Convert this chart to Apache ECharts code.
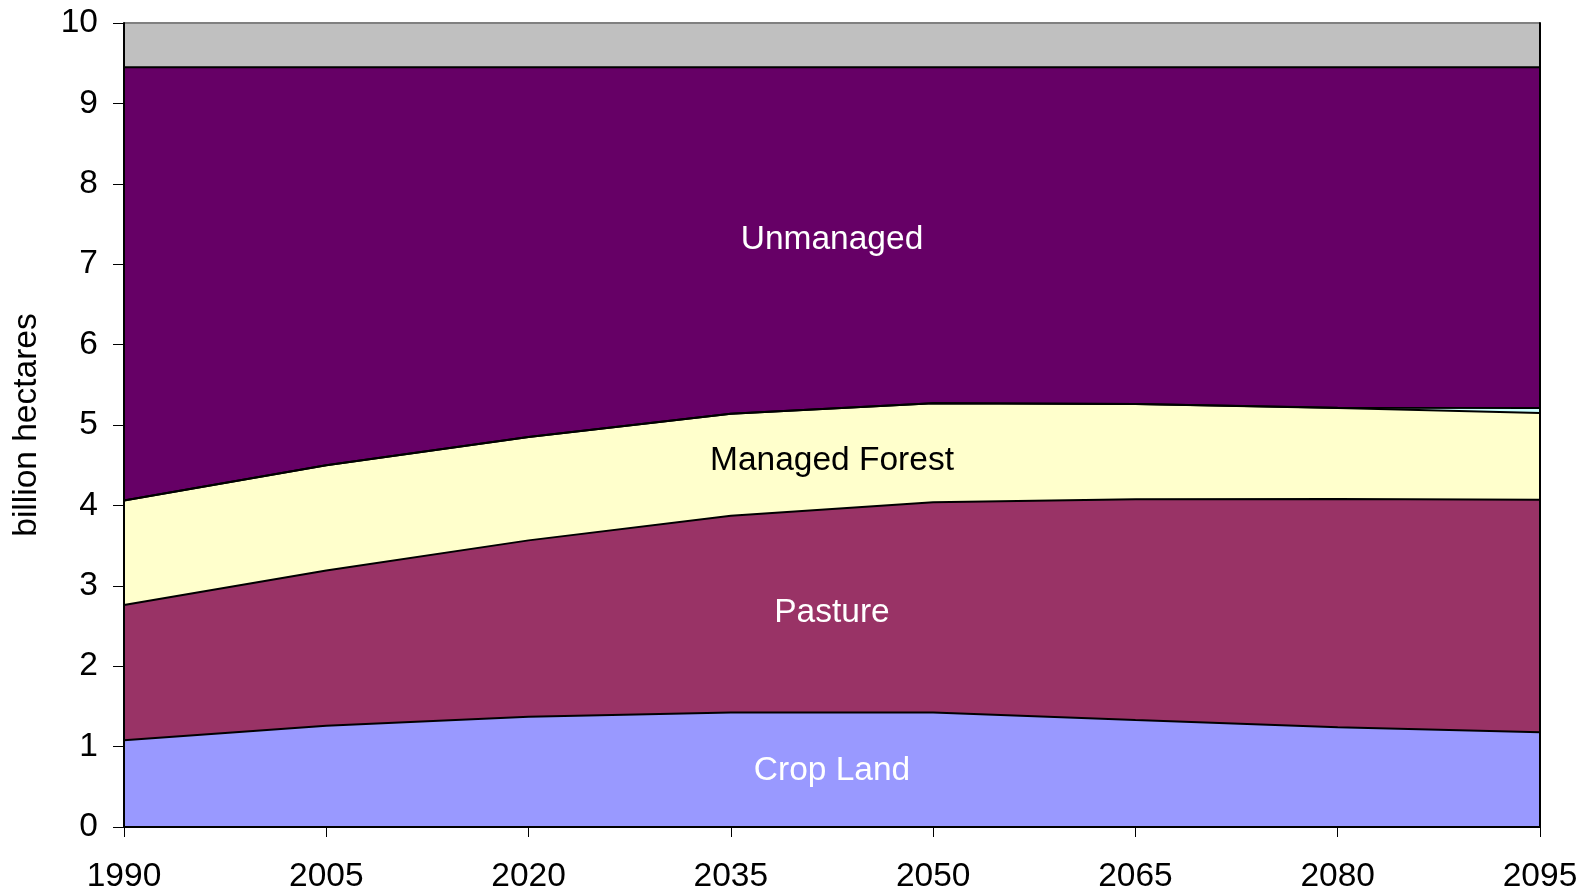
<!DOCTYPE html>
<html>
<head>
<meta charset="utf-8">
<title>Global land use</title>
<script src="https://cdn.jsdelivr.net/npm/echarts@6/dist/echarts.min.js"></script>
<style>
  html, body { margin: 0; padding: 0; background: #ffffff; }
  #chart { width: 1581px; height: 894px; }
</style>
</head>
<body>
<div id="chart"></div>
<script>
// Years on the horizontal axis
const years = ['1990', '2005', '2020', '2035', '2050', '2065', '2080', '2095'];

// Land area by type, billion hectares (stacked from the bottom up)
const cropLand      = [1.08, 1.26, 1.37, 1.425, 1.425, 1.33, 1.24, 1.18];
const pasture       = [1.68, 1.93, 2.195, 2.445, 2.615, 2.745, 2.84, 2.89];
const managedForest = [1.30, 1.31, 1.285, 1.27, 1.23, 1.185, 1.13, 1.08];
const bioenergy     = [0, 0, 0, 0, 0, 0, 0.005, 0.06];
const unmanaged     = [5.39, 4.95, 4.60, 4.31, 4.18, 4.19, 4.235, 4.24];
const otherLand     = [0.55, 0.55, 0.55, 0.55, 0.55, 0.55, 0.55, 0.55];

// In-area labels: text, value height of the label centre, text colour
const areaLabels = [
  { text: 'Unmanaged',      y: 7.30, color: '#ffffff' },
  { text: 'Managed Forest', y: 4.56, color: '#000000' },
  { text: 'Pasture',        y: 2.67, color: '#ffffff' },
  { text: 'Crop Land',      y: 0.70, color: '#ffffff' }
];

const FONT = '"Liberation Sans", Arial, sans-serif';
const FS = 33.5;

function layer(name, data, fill, lineColor) {
  return {
    name: name,
    type: 'line',
    stack: 'land',
    data: data,
    symbol: 'none',
    smooth: false,
    itemStyle: { color: fill },
    areaStyle: { color: fill, opacity: 1 },
    lineStyle: { color: lineColor || '#000000', width: 2 },
    emphasis: { disabled: true }
  };
}

const chart = echarts.init(document.getElementById('chart'), null, { renderer: 'canvas' });

chart.setOption({
  animation: false,
  backgroundColor: '#ffffff',
  grid: { left: 124, right: 41, top: 23, bottom: 64, containLabel: false },
  xAxis: {
    type: 'category',
    data: years,
    boundaryGap: false,
    axisLine: { show: true, lineStyle: { color: '#000000', width: 2 } },
    axisTick: { show: true, alignWithLabel: true, length: 10, lineStyle: { color: '#000000', width: 1 } },
    axisLabel: { color: '#000000', fontSize: FS, fontFamily: FONT, margin: 33,
      showMinLabel: true, showMaxLabel: true, interval: 0 },
    splitLine: { show: false },
    z: 10
  },
  yAxis: [{
    type: 'value',
    min: 0, max: 10, interval: 1,
    name: 'billion hectares',
    nameLocation: 'middle',
    nameRotate: 90,
    nameGap: 80,
    nameTextStyle: { color: '#000000', fontSize: FS, fontFamily: FONT },
    axisLine: { show: true, lineStyle: { color: '#000000', width: 2 } },
    axisTick: { show: true, length: 11, lineStyle: { color: '#000000', width: 1 } },
    axisLabel: { color: '#000000', fontSize: FS, fontFamily: FONT, margin: 26 },
    splitLine: { show: false },
    z: 10
  }, {
    type: 'value',
    position: 'right',
    min: 0, max: 10, interval: 1,
    axisLine: { show: true, lineStyle: { color: '#000000', width: 2 } },
    axisTick: { show: false },
    axisLabel: { show: false },
    splitLine: { show: false },
    z: 10
  }],
  series: [
    layer('Crop Land', cropLand, '#9999FF'),
    layer('Pasture', pasture, '#993366'),
    layer('Managed Forest', managedForest, '#FFFFCC'),
    layer('Bioenergy', bioenergy, '#CCFFFF'),
    layer('Unmanaged', unmanaged, '#660066'),
    layer('Other', otherLand, '#C0C0C0', '#808080')
  ]
});

// Place the area labels, centred horizontally over the plot
const xLeft = chart.convertToPixel({ xAxisIndex: 0 }, 0);
const xRight = chart.convertToPixel({ xAxisIndex: 0 }, years.length - 1);
const xMid = (xLeft + xRight) / 2;

chart.setOption({
  graphic: areaLabels.map(function (l) {
    return {
      type: 'text',
      x: xMid,
      y: chart.convertToPixel({ yAxisIndex: 0 }, l.y),
      z: 100,
      style: {
        text: l.text,
        fill: l.color,
        fontSize: FS,
        fontFamily: FONT,
        align: 'center',
        verticalAlign: 'middle'
      }
    };
  })
});
</script>
</body>
</html>
